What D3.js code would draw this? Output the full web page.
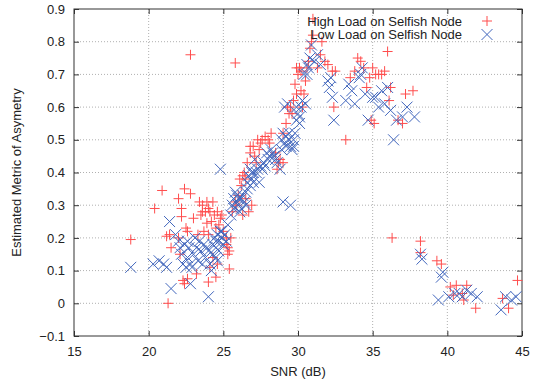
<!DOCTYPE html>
<html>
<head>
<meta charset="utf-8">
<script src="https://cdn.jsdelivr.net/npm/d3@7"></script>
<style>
  body { margin: 0; background: #fff; }
  svg text { font-family: "Liberation Sans", Arial, sans-serif; fill: #222; }
</style>
</head>
<body>
<div id="chart"></div>
<script>
// SNR (dB), estimated metric
const highLoad = [
  [22.8, 0.76], [25.8, 0.735], [18.8, 0.195], [21.3, 0.0], [20.4, 0.29], [20.9, 0.345],
  [22.4, 0.35], [22.0, 0.32], [22.8, 0.335], [21.2, 0.205], [21.4, 0.21], [21.5, 0.17],
  [22.2, 0.29], [22.2, 0.265], [22.5, 0.23], [22.6, 0.22], [23.0, 0.26], [22.3, 0.07],
  [22.4, 0.06], [22.6, 0.075], [23.2, 0.09], [24.0, 0.065], [24.5, 0.08], [25.4, 0.105],
  [24.6, 0.12], [24.3, 0.14], [22.1, 0.15], [22.0, 0.2], [23.4, 0.31], [23.6, 0.3],
  [23.8, 0.28], [23.5, 0.27], [24.0, 0.29], [24.3, 0.31], [24.1, 0.28], [24.4, 0.27],
  [24.6, 0.28], [24.8, 0.26], [24.9, 0.27], [23.9, 0.245], [24.2, 0.25], [24.5, 0.23],
  [25.0, 0.22], [25.2, 0.2], [25.3, 0.17], [25.4, 0.16], [25.2, 0.18], [24.0, 0.21],
  [23.7, 0.22], [23.6, 0.28], [23.9, 0.31], [24.7, 0.24], [23.3, 0.21], [24.1, 0.11],
  [25.6, 0.28], [25.8, 0.31], [26.0, 0.33], [26.2, 0.36], [26.3, 0.39], [26.1, 0.38],
  [26.5, 0.32], [26.7, 0.28], [26.9, 0.3], [26.6, 0.43], [26.8, 0.46], [26.8, 0.48],
  [27.1, 0.45], [27.0, 0.48], [27.3, 0.5], [27.6, 0.5], [27.8, 0.51], [28.0, 0.5],
  [28.2, 0.52], [27.4, 0.47], [27.2, 0.43], [26.5, 0.38], [28.5, 0.46], [28.8, 0.44],
  [29.0, 0.43], [28.6, 0.41], [29.0, 0.52], [29.2, 0.55], [29.4, 0.58], [29.5, 0.6],
  [29.7, 0.62], [29.9, 0.64], [29.8, 0.67], [30.0, 0.7], [30.1, 0.72], [29.9, 0.72],
  [30.2, 0.65], [30.4, 0.64], [30.3, 0.6], [30.5, 0.68], [30.6, 0.72], [30.7, 0.74],
  [30.8, 0.78], [30.9, 0.8], [31.0, 0.82], [31.0, 0.87], [31.6, 0.8], [31.5, 0.76],
  [31.3, 0.72], [31.8, 0.74], [32.0, 0.73], [32.3, 0.71], [32.5, 0.71], [32.4, 0.6],
  [33.2, 0.5], [33.5, 0.69], [33.8, 0.71], [34.0, 0.75], [34.2, 0.74], [34.4, 0.72],
  [34.6, 0.66], [34.8, 0.69], [35.0, 0.72], [35.2, 0.7], [35.4, 0.7], [35.6, 0.7],
  [35.8, 0.71], [36.0, 0.77], [36.2, 0.66], [36.1, 0.62], [35.1, 0.55], [34.9, 0.56],
  [36.7, 0.56], [37.0, 0.55], [37.2, 0.64], [37.7, 0.65], [36.3, 0.2], [38.2, 0.19],
  [38.2, 0.155], [39.3, 0.13], [39.6, 0.12], [40.2, 0.05], [40.6, 0.055], [41.0, 0.03],
  [41.3, 0.055], [41.1, 0.01], [41.9, -0.015], [43.7, 0.015], [44.1, -0.015], [44.7, 0.07],
  [40.4, 0.025], [26.3, 0.27], [25.9, 0.3], [26.4, 0.4], [27.5, 0.49], [28.1, 0.49],
  [28.7, 0.43], [29.3, 0.6], [30.2, 0.71], [29.6, 0.58], [25.5, 0.2], [25.3, 0.15]
];

const lowLoad = [
  [18.8, 0.11], [20.3, 0.12], [20.7, 0.13], [21.0, 0.12], [21.2, 0.11], [21.4, 0.25],
  [21.5, 0.045], [21.8, 0.21], [22.0, 0.19], [22.1, 0.17], [22.2, 0.15], [22.3, 0.12],
  [22.5, 0.11], [22.6, 0.19], [22.7, 0.17], [22.8, 0.12], [22.9, 0.11], [22.8, 0.06],
  [23.0, 0.15], [23.3, 0.13], [23.4, 0.19], [23.6, 0.12], [23.8, 0.14], [23.9, 0.17],
  [24.0, 0.02], [24.1, 0.12], [24.3, 0.15], [24.5, 0.17], [24.4, 0.2], [24.6, 0.21],
  [24.7, 0.19], [24.8, 0.22], [24.9, 0.2], [25.0, 0.18], [24.6, 0.13], [24.8, 0.41],
  [22.4, 0.18], [23.1, 0.2], [23.7, 0.18], [24.2, 0.1], [24.5, 0.14], [25.1, 0.21],
  [25.3, 0.24], [25.5, 0.27], [25.6, 0.3], [25.7, 0.32], [25.8, 0.34], [25.9, 0.31],
  [26.0, 0.3], [26.1, 0.28], [26.2, 0.32], [26.4, 0.31], [26.5, 0.34], [26.6, 0.37],
  [26.7, 0.39], [26.8, 0.41], [26.9, 0.38], [27.0, 0.4], [27.1, 0.44], [27.2, 0.4],
  [27.4, 0.37], [27.5, 0.42], [27.7, 0.43], [27.9, 0.46], [28.0, 0.44], [28.2, 0.47],
  [28.4, 0.45], [28.6, 0.43], [28.8, 0.41], [28.9, 0.5], [29.0, 0.52], [29.1, 0.49],
  [29.2, 0.51], [29.4, 0.5], [29.5, 0.48], [29.6, 0.47], [29.7, 0.5], [29.8, 0.52],
  [29.0, 0.31], [29.5, 0.3], [29.1, 0.6], [29.3, 0.61], [29.9, 0.56], [30.0, 0.58],
  [30.1, 0.55], [30.2, 0.6], [30.3, 0.62], [30.5, 0.61], [30.4, 0.7], [30.6, 0.73],
  [30.7, 0.72], [30.8, 0.75], [30.9, 0.79], [31.1, 0.74], [31.3, 0.76], [31.5, 0.73],
  [32.0, 0.68], [32.1, 0.66], [32.3, 0.63], [32.4, 0.56], [32.2, 0.69], [33.2, 0.62],
  [33.4, 0.67], [33.6, 0.65], [33.8, 0.61], [34.1, 0.69], [34.3, 0.72], [34.2, 0.7],
  [34.5, 0.64], [34.7, 0.56], [35.0, 0.63], [35.2, 0.63], [35.4, 0.6], [35.6, 0.65],
  [35.8, 0.61], [36.0, 0.66], [36.2, 0.59], [36.4, 0.5], [36.6, 0.56], [37.0, 0.57],
  [37.3, 0.6], [37.8, 0.57], [38.2, 0.15], [38.3, 0.135], [39.4, 0.01], [39.6, 0.08],
  [39.7, 0.095], [40.1, 0.02], [40.5, 0.03], [40.8, 0.03], [41.0, 0.02], [41.3, 0.04],
  [41.6, 0.03], [42.0, 0.02], [43.6, -0.02], [43.9, 0.02], [44.3, 0.01], [44.6, 0.02],
  [25.7, 0.29], [25.9, 0.33], [26.0, 0.32], [26.2, 0.29], [26.3, 0.33], [26.5, 0.3],
  [26.6, 0.35], [26.8, 0.36], [26.9, 0.4], [27.0, 0.37], [27.3, 0.41], [27.6, 0.41],
  [27.8, 0.42], [28.1, 0.45], [28.3, 0.46], [28.5, 0.44], [28.9, 0.47], [29.2, 0.48],
  [29.4, 0.52], [29.7, 0.48], [29.9, 0.6], [30.1, 0.57], [30.6, 0.7], [24.5, 0.19],
  [24.7, 0.16], [24.3, 0.18], [24.9, 0.22], [25.2, 0.19], [23.2, 0.17], [22.6, 0.14],
  [23.5, 0.16], [24.0, 0.16]
];

const xTicks = [15, 20, 25, 30, 35, 40, 45];
const yTicks = [-0.1, 0, 0.1, 0.2, 0.3, 0.4, 0.5, 0.6, 0.7, 0.8, 0.9];
const seriesNames = ['High Load on Selfish Node', 'Low Load on Selfish Node'];

const width = 533, height = 381;
const margin = { top: 9, right: 11, bottom: 45, left: 74 };
const innerW = width - margin.left - margin.right;
const innerH = height - margin.top - margin.bottom;
const red = '#ff4d4d', blue = '#4166bd';

const svg = d3.select('#chart').append('svg')
  .attr('width', width)
  .attr('height', height);

const g = svg.append('g')
  .attr('transform', `translate(${margin.left},${margin.top})`);

const x = d3.scaleLinear().domain([15, 45]).range([0, innerW]);
const y = d3.scaleLinear().domain([-0.1, 0.9]).range([innerH, 0]);

// dotted grid
g.append('g').selectAll('line').data(xTicks.slice(1, -1)).join('line')
  .attr('x1', d => x(d)).attr('x2', d => x(d))
  .attr('y1', 0).attr('y2', innerH)
  .attr('stroke', '#b0b0b0').attr('stroke-dasharray', '1,2');
g.append('g').selectAll('line').data(yTicks.slice(1, -1)).join('line')
  .attr('x1', 0).attr('x2', innerW)
  .attr('y1', d => y(d)).attr('y2', d => y(d))
  .attr('stroke', '#b0b0b0').attr('stroke-dasharray', '1,2');

// axes, ticks inward and mirrored like gnuplot
const yFmt = d => (Math.abs(d) < 1e-9 ? '0' : d3.format('.1f')(d));

function styleAxis(sel) {
  sel.select('.domain').remove();
  sel.selectAll('.tick line').attr('stroke', '#333');
  sel.selectAll('.tick text').style('font-size', '13px').attr('fill', '#222');
}

g.append('g').attr('transform', `translate(0,${innerH})`)
  .call(d3.axisBottom(x).tickValues(xTicks).tickSize(-5).tickPadding(11))
  .call(styleAxis);
g.append('g')
  .call(d3.axisTop(x).tickValues(xTicks).tickSize(-5).tickFormat(''))
  .call(styleAxis);
g.append('g')
  .call(d3.axisLeft(y).tickValues(yTicks).tickSize(-5).tickPadding(9).tickFormat(yFmt))
  .call(styleAxis);
g.append('g').attr('transform', `translate(${innerW},0)`)
  .call(d3.axisRight(y).tickValues(yTicks).tickSize(-5).tickFormat(''))
  .call(styleAxis);

g.append('rect')
  .attr('width', innerW).attr('height', innerH)
  .attr('fill', 'none').attr('stroke', '#333').attr('stroke-width', 1);

// markers
const sp = 5, sx = 5.5;
const plusPath = `M${-sp},0H${sp}M0,${-sp}V${sp}`;
const crossPath = `M${-sx},${-sx}L${sx},${sx}M${-sx},${sx}L${sx},${-sx}`;

g.append('g').selectAll('path').data(highLoad).join('path')
  .attr('transform', d => `translate(${x(d[0])},${y(d[1])})`)
  .attr('d', plusPath)
  .attr('stroke', red).attr('stroke-width', 1).attr('fill', 'none');

g.append('g').selectAll('path').data(lowLoad).join('path')
  .attr('transform', d => `translate(${x(d[0])},${y(d[1])})`)
  .attr('d', crossPath)
  .attr('stroke', blue).attr('stroke-width', 1).attr('fill', 'none');

// legend
const legend = svg.append('g');
seriesNames.forEach((name, i) => {
  const ly = 21 + i * 13.5;
  legend.append('text')
    .attr('x', 462).attr('y', ly).attr('dy', '0.35em')
    .attr('text-anchor', 'end')
    .style('font-size', '13px')
    .text(name);
  legend.append('path')
    .attr('transform', `translate(487,${ly})`)
    .attr('d', i === 0 ? plusPath : crossPath)
    .attr('stroke', i === 0 ? red : blue).attr('fill', 'none');
});

// axis titles
svg.append('text')
  .attr('x', margin.left + innerW / 2).attr('y', 376)
  .attr('text-anchor', 'middle')
  .style('font-size', '13px')
  .text('SNR (dB)');

svg.append('text')
  .attr('transform', `translate(21,${margin.top + innerH / 2}) rotate(-90)`)
  .attr('text-anchor', 'middle')
  .style('font-size', '13px')
  .text('Estimated Metric of Asymetry');
</script>
</body>
</html>
